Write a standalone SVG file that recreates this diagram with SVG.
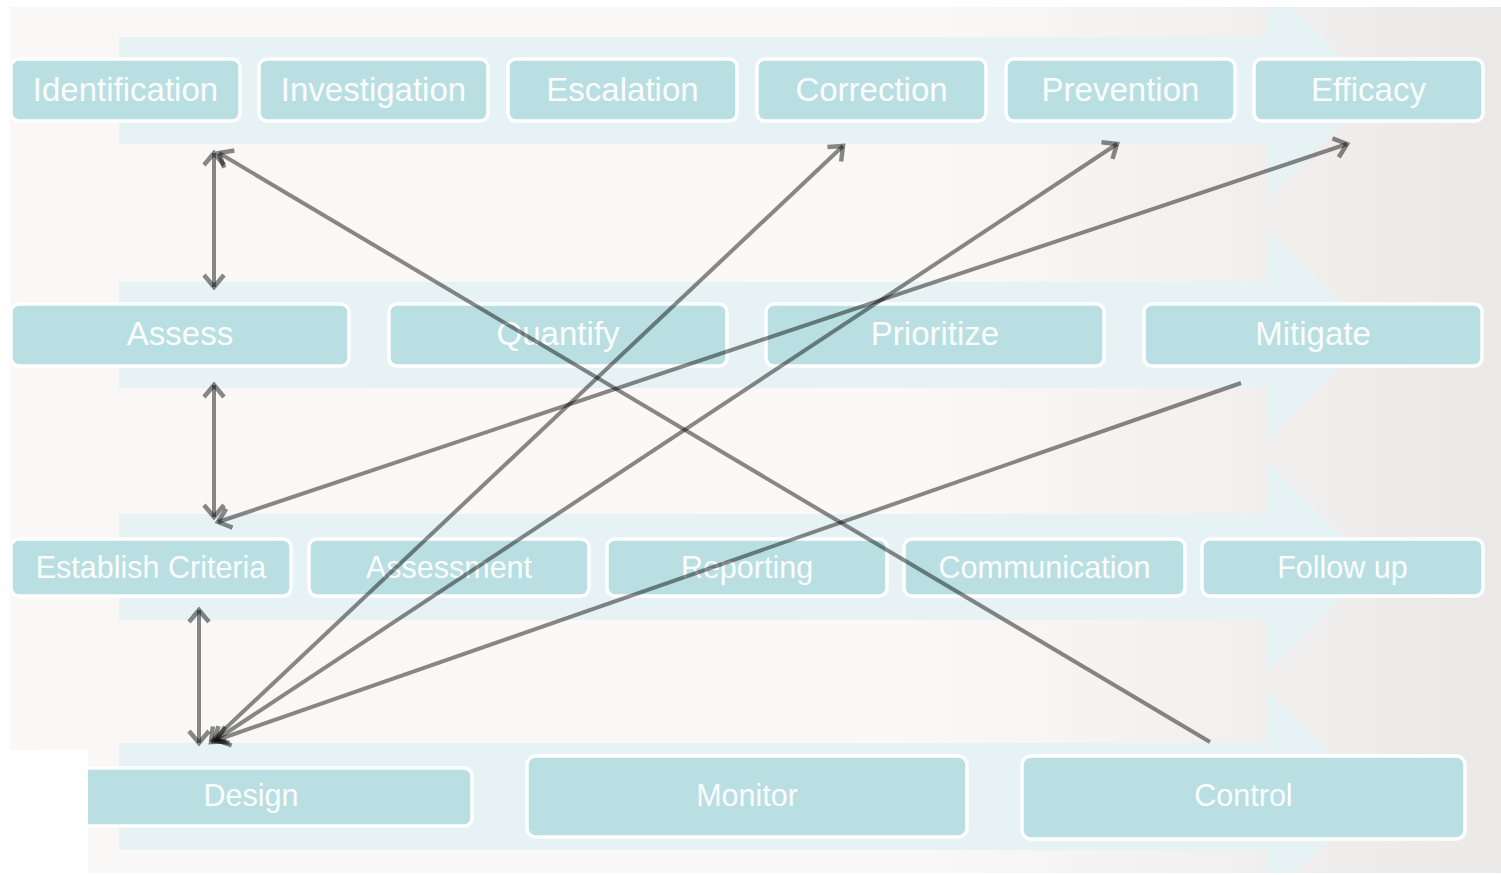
<svg xmlns="http://www.w3.org/2000/svg" width="1501" height="875" viewBox="0 0 1501 875">
  <defs>
    <linearGradient id="bgGrad" x1="0" y1="0" x2="1" y2="0">
      <stop offset="0" stop-color="#f9f8f7"/>
      <stop offset="0.6" stop-color="#faf9f8"/>
      <stop offset="1" stop-color="#eae9e7"/>
    </linearGradient>
    <clipPath id="bgClip">
      <rect x="10" y="7" width="1491" height="866"/>
    </clipPath>
    <marker id="head" viewBox="-18 -14 22 28" refX="0" refY="0" markerWidth="22" markerHeight="28" markerUnits="userSpaceOnUse" orient="auto-start-reverse" overflow="visible">
      <path d="M-12,-10 L0,0 L-12,10" fill="none" stroke="#000" stroke-opacity="0.46" stroke-width="4.5"/>
    </marker>
    <style>
      .band { fill: #e6f2f3; }
      .node rect { fill: #b9dfe2; stroke: #ffffff; stroke-width: 3.5; }
      .node text { fill: #fbfdfd; font-family: "Liberation Sans", Arial, sans-serif; text-anchor: middle; }
      .r12 text { font-size: 33px; }
      .r34 text { font-size: 30.5px; }
      #connectors path { fill: none; stroke: #000; stroke-opacity: 0.46; stroke-width: 4; }
    </style>
  </defs>

  <!-- page background -->
  <rect x="0" y="0" width="1501" height="875" fill="#ffffff"/>
  <rect x="10" y="7" width="1491" height="866" fill="url(#bgGrad)"/>

  <!-- pale block arrows behind each row -->
  <g id="bands" clip-path="url(#bgClip)">
    <path class="band" d="M119,37 H1268 V-17 L1375,90 L1268,197 V144 H119 Z"/>
    <path class="band" d="M119,282 H1268 V230 L1373,335 L1268,440 V388 H119 Z"/>
    <path class="band" d="M119,514 H1268 V462 L1373,567 L1268,672 V620 H119 Z"/>
    <path class="band" d="M119,743 H1268 V692 L1373,796 L1268,900 V850 H119 Z"/>
  </g>

  <!-- row 1 -->
  <g id="identification" class="node r12"><rect x="11" y="59" width="229" height="62" rx="8"/><text x="125.5" y="101">Identification</text></g>
  <g id="investigation" class="node r12"><rect x="259" y="59" width="229" height="62" rx="8"/><text x="373.5" y="101">Investigation</text></g>
  <g id="escalation" class="node r12"><rect x="508" y="59" width="229" height="62" rx="8"/><text x="622.5" y="101">Escalation</text></g>
  <g id="correction" class="node r12"><rect x="757" y="59" width="229" height="62" rx="8"/><text x="871.5" y="101">Correction</text></g>
  <g id="prevention" class="node r12"><rect x="1006" y="59" width="229" height="62" rx="8"/><text x="1120.5" y="101">Prevention</text></g>
  <g id="efficacy" class="node r12"><rect x="1254" y="59" width="229" height="62" rx="8"/><text x="1368.5" y="101">Efficacy</text></g>

  <!-- row 2 -->
  <g id="assess" class="node r12"><rect x="11" y="304" width="338" height="62" rx="8"/><text x="180" y="345">Assess</text></g>
  <g id="quantify" class="node r12"><rect x="389" y="304" width="338" height="62" rx="8"/><text x="558" y="345">Quantify</text></g>
  <g id="prioritize" class="node r12"><rect x="766" y="304" width="338" height="62" rx="8"/><text x="935" y="345">Prioritize</text></g>
  <g id="mitigate" class="node r12"><rect x="1144" y="304" width="338" height="62" rx="8"/><text x="1313" y="345">Mitigate</text></g>

  <!-- row 3 -->
  <g id="establish-criteria" class="node r34"><rect x="11" y="539" width="280" height="57" rx="8"/><text x="151" y="578">Establish Criteria</text></g>
  <g id="assessment" class="node r34"><rect x="309" y="539" width="280" height="57" rx="8"/><text x="449" y="578">Assessment</text></g>
  <g id="reporting" class="node r34"><rect x="607" y="539" width="280" height="57" rx="8"/><text x="747" y="578">Reporting</text></g>
  <g id="communication" class="node r34"><rect x="904" y="539" width="281" height="57" rx="8"/><text x="1044.5" y="578">Communication</text></g>
  <g id="follow-up" class="node r34"><rect x="1202" y="539" width="281" height="57" rx="8"/><text x="1342.5" y="578">Follow up</text></g>

  <!-- row 4 -->
  <g id="design" class="node r34"><rect x="30" y="768" width="442" height="58" rx="8"/><text x="251" y="806">Design</text></g>
  <g id="monitor" class="node r34"><rect x="527" y="756" width="440" height="81" rx="9"/><text x="747" y="806">Monitor</text></g>
  <g id="control" class="node r34"><rect x="1022" y="756" width="443" height="83" rx="9"/><text x="1243.5" y="806">Control</text></g>

  <!-- blank corner patch at bottom left -->
  <rect x="0" y="750" width="88" height="125" fill="#ffffff"/>

  <g id="connectors">
    <path d="M214,153 V287" marker-start="url(#head)" marker-end="url(#head)"/>
    <path d="M214,385 V517" marker-start="url(#head)" marker-end="url(#head)"/>
    <path d="M199,610 V743" marker-start="url(#head)" marker-end="url(#head)"/>
    <path d="M1210,742 L219,153" marker-end="url(#head)"/>
    <path d="M218,522 L1347,144" marker-start="url(#head)" marker-end="url(#head)"/>
    <path d="M211,742 L843,146" marker-start="url(#head)" marker-end="url(#head)"/>
    <path d="M214,741 L1117,144" marker-start="url(#head)" marker-end="url(#head)"/>
    <path d="M1241,383 L217,740" marker-end="url(#head)"/>
  </g>
</svg>
